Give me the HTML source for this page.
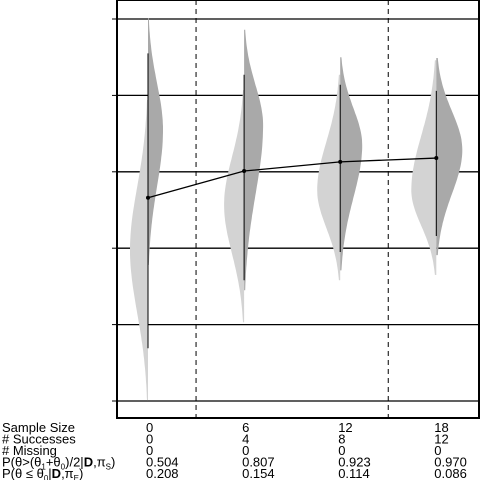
<!DOCTYPE html>
<html><head><meta charset="utf-8"><style>
html,body{margin:0;padding:0;background:#fff;}
svg{display:block;font-family:"Liberation Sans",Arial,sans-serif;}
</style></head><body>
<svg id="chart" width="480" height="480" viewBox="0 0 480 480" xmlns="http://www.w3.org/2000/svg">
<g id="grid"></g>
<g id="marks"></g>
<g id="line"></g>
<rect x="117" y="0" width="362" height="418" fill="none" stroke="#000" stroke-width="2"/>
<g id="table" font-size="13" fill="#000"></g>
</svg>
<script>
const categories = ["0","6","12","18"];
const successes = ["0","4","8","12"];
const missing = ["0","0","0","0"];
const pS = ["0.504","0.807","0.923","0.970"];
const pE = ["0.208","0.154","0.114","0.086"];
const means = [2.66, 3.01, 3.13, 3.18];
const errLo = [0.69, 1.58, 1.95, 2.16];
const errHi = [4.55, 4.27, 4.14, 4.06];
const darkLo = [1.78, 1.45, 1.71, 1.91];
const darkMode = [3.55, 3.61, 3.35, 3.29];
const darkHi = [5.01, 4.86, 4.50, 4.49];
const darkW = [15, 19, 22, 26];
const lightLo = [0.01, 1.03, 1.58, 1.65];
const lightMode = [1.98, 2.57, 2.76, 2.76];
const lightHi = [3.94, 4.07, 4.27, 4.46];
const lightW = [18, 20, 23, 25];
const gridVals = [0,1,2,3,4,5];

const NS="http://www.w3.org/2000/svg";
const yS = v => 401 - v*76.4;
const xS = i => 148 + i*96.1;
function mk(tag, attrs, parent){const e=document.createElementNS(NS,tag);for(const k in attrs)e.setAttribute(k,attrs[k]);parent.appendChild(e);return e;}
const grid=document.getElementById('grid'), marks=document.getElementById('marks'), line=document.getElementById('line'), table=document.getElementById('table');

gridVals.forEach(v=>{
  const l=mk('line',{x1:117,x2:479,y1:yS(v),y2:yS(v),stroke:'#000','stroke-width':1.3},grid);
  
  
  const t=mk('line',{x1:112,x2:117,y1:yS(v),y2:yS(v),stroke:'#000','stroke-width':1},grid);
  
  
});
for(let i=0;i<categories.length-1;i++){
  if(i===1) continue;
  const x=(xS(i)+xS(i+1))/2;
  const d=mk('line',{x1:x,x2:x,y1:0,y2:418,stroke:'#000','stroke-width':1,'stroke-dasharray':'5,4'},grid);
  
  
}
function half(i,lo,mode,hi,w,dir,color,name){
  const x0=xS(i); const pts=[]; const n=80;
  for(let k=0;k<=n;k++){
    const v=lo+(hi-lo)*k/n;
    const s=v>mode?(hi-mode)/2.4:(mode-lo)/2.4;
    const wd=w*Math.exp(-0.5*((v-mode)/s)**2);
    pts.push((x0+dir*wd).toFixed(1)+','+yS(v).toFixed(1));
  }
  const p=mk('polygon',{points:x0+','+yS(lo)+' '+pts.join(' ')+' '+x0+','+yS(hi),fill:color},marks);
  
  
}
categories.forEach((c,i)=>{
  half(i,lightLo[i],lightMode[i],lightHi[i],lightW[i],-1,'#d3d3d3','prior-density-'+c);
  half(i,darkLo[i],darkMode[i],darkHi[i],darkW[i],1,'#a9a9a9','posterior-density-'+c);
  const e=mk('line',{x1:xS(i),x2:xS(i),y1:yS(errLo[i]),y2:yS(errHi[i]),stroke:'#000','stroke-width':1},marks);
  
  
});
const pl=mk('polyline',{points:means.map((m,i)=>xS(i)+','+yS(m)).join(' '),fill:'none',stroke:'#000','stroke-width':1.3},line);


means.forEach((m,i)=>{
  const c=mk('circle',{cx:xS(i),cy:yS(m),r:2,fill:'#000'},line);
  
  
});
const rowsY=[432,443.5,455,466.5,478];
const labels=['Sample Size','# Successes','# Missing',null,null];
const rowsData=[categories,successes,missing,pS,pE];
labels.forEach((l,r)=>{
  if(l){const t=mk('text',{x:2,y:rowsY[r]},table);t.textContent=l;
    
    }
});
const t3=mk('text',{x:2,y:rowsY[3]},table);


t3.innerHTML='P(θ&gt;(θ<tspan font-size="8" dy="3">1</tspan><tspan dy="-3">+θ</tspan><tspan font-size="8" dy="3">0</tspan><tspan dy="-3">)/2|</tspan><tspan font-weight="bold">D</tspan>,π<tspan font-size="8" dy="3">S</tspan><tspan dy="-3">)</tspan>';
const t4=mk('text',{x:2,y:rowsY[4]},table);


t4.innerHTML='P(θ ≤ θ<tspan font-size="8" dy="3">0</tspan><tspan dy="-3">|</tspan><tspan font-weight="bold">D</tspan>,π<tspan font-size="8" dy="3">E</tspan><tspan dy="-3">)</tspan>';
rowsData.forEach((arr,r)=>{
  arr.forEach((v,i)=>{
    const t=mk('text',{x:xS(i)-2,y:rowsY[r]},table);
    t.textContent=v;
    
    
  });
});
</script>
</body></html>
